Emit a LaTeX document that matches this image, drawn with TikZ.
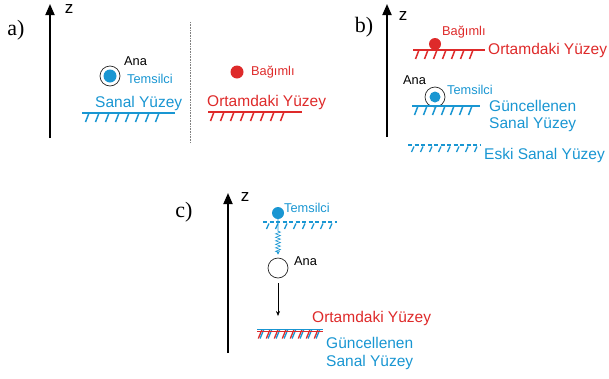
\documentclass[tikz,border=0pt]{standalone}
\usepackage{fontspec}
\setmainfont{Liberation Sans}
\newfontfamily\panelfont{Liberation Serif}
\usetikzlibrary{arrows.meta,decorations.pathmorphing}

\definecolor{tblue}{RGB}{25,150,210}
\definecolor{tred}{RGB}{222,42,42}

% solid surface with slanted hatches: colour, x1, x2, y, hatch positions
\newcommand\solidsurf[5]{%
  \draw[#1, line width=1.6pt] (#2,#4) -- (#3,#4);
  \foreach \hx in {#5} \draw[#1, line width=1.5pt] (\hx,#4) -- ++(-3.5,9);
}
% dashed (old) surface
\newcommand\dashsurf[5]{%
  \draw[#1, line width=1.4pt, dash pattern=on 4pt off 2.5pt] (#2,#4) -- (#3,#4);
  \foreach \hx in {#5} \draw[#1, line width=1.3pt] (\hx,#4+1.5) -- ++(-2.5,5.5);
}

\begin{document}
\begin{tikzpicture}[x=1pt,y=-1pt,
  axis/.style={line width=1.8pt,-{Triangle[width=9pt,length=11pt]}},
  big/.style={font=\fontsize{15.5}{17}\selectfont, inner sep=0pt, anchor=west},
  small/.style={font=\fontsize{12.8}{14}\selectfont, inner sep=0pt, anchor=west},
  zlab/.style={font=\fontsize{17}{18}\selectfont, inner sep=0pt},
  panel/.style={font=\panelfont\fontsize{22}{23}\selectfont, inner sep=0pt},
  ring/.style={circle, draw=black!85, line width=0.7pt, minimum size=20pt, inner sep=0pt},
  dot/.style={circle, minimum size=#1, inner sep=0pt},
]
\useasboundingbox (0,0) rectangle (609,378);

%% ---------------- a) ----------------
\node[panel] (la) at (16,30) {a)};
\coordinate (za0) at (50,138);
\coordinate (za1) at (50,4);
\draw[axis] (za0) -- (za1);
\node[zlab] (zla) at (69,9) {z};

\node[ring] (anaA) at (110,76) {};
\node[dot=13pt, fill=tblue] (temA) at (110,76) {};
\node[small] (anaAl) at (124,61) {Ana};
\node[small, text=tblue] (temAl) at (127,79) {Temsilci};
\node[big, text=tblue] (sanA) at (95,103) {Sanal Yüzey};
\solidsurf{tblue}{82}{175}{113}{89,99,109,119,129,139,149,159}

\coordinate (sep0) at (190,22);
\coordinate (sep1) at (190,143);
\draw[gray, densely dotted, line width=0.6pt] (sep0) -- (sep1);

\node[dot=13pt, fill=tred] (bagA) at (237,72) {};
\node[small, text=tred] (bagAl) at (251,72) {Bağımlı};
\node[big, text=tred] (ortA) at (207,102) {Ortamdaki Yüzey};
\solidsurf{tred}{208}{302}{112}{214,224,234,244,254,264,274,284}

%% ---------------- b) ----------------
\node[panel] (lb) at (364,27) {b)};
\coordinate (zb0) at (387,137);
\coordinate (zb1) at (387,4);
\draw[axis] (zb0) -- (zb1);
\node[zlab] (zlb) at (403,16) {z};

\node[dot=12pt, fill=tred] (bagB) at (435,44) {};
\node[small, text=tred] (bagBl) at (442,32) {Bağımlı};
\solidsurf{tred}{413}{485}{50}{419,428,437,446,455,464,473}
\node[big, text=tred] (ortB) at (488,50) {Ortamdaki Yüzey};

\node[small] (anaBl) at (403,80) {Ana};
\node[ring] (anaB) at (435,97) {};
\node[dot=11pt, fill=tblue] (temB) at (435,97) {};
\node[small, text=tblue] (temBl) at (447,90) {Temsilci};
\solidsurf{tblue}{412}{480}{106}{418,427,436,445,454,463,472}
\node[big, text=tblue] (gunB) at (489,106) {Güncellenen};
\node[big, text=tblue] (sanB) at (489,124) {Sanal Yüzey};

\dashsurf{tblue}{408}{480}{145}{414,423,432,441,450,459,468,477}
\node[big, text=tblue] (eskB) at (484,155) {Eski Sanal Yüzey};

%% ---------------- c) ----------------
\node[panel] (lc) at (184,212) {c)};
\coordinate (zc0) at (228,353);
\coordinate (zc1) at (228,193);
\draw[axis] (zc0) -- (zc1);
\node[zlab] (zlc) at (245,197) {z};

\node[dot=12pt, fill=tblue] (temC) at (278,213) {};
\node[small, text=tblue] (temCl) at (284,208) {Temsilci};
\dashsurf{tblue}{263}{337}{222}{269,278,287,296,305,314,323,332}

\node[ring] (anaC) at (278,268) {};
\node[small] (anaCl) at (294,261) {Ana};

% spring pulling the parent down to the representative
\draw[tblue, line width=0.6pt, decorate,
      decoration={zigzag, segment length=3.5pt, amplitude=2.5pt, pre length=12pt, post length=4pt},
      shorten >=3pt, -{Stealth[length=4pt,width=4pt]}] (temC.south) -- (anaC.north);

\coordinate (fall) at (278,316);
\draw[line width=0.6pt, shorten <=5pt, -{Stealth[length=5pt,width=4pt]}] (anaC.south) -- (fall);

% coincident surfaces: hatches of both colours under a shared line
\foreach \hx in {263,271,279,287,295,303,311,319}{
  \draw[tred, line width=1.3pt] (\hx-1.2,330) -- ++(-3.5,8.5);
  \draw[tblue, line width=1.3pt] (\hx+0.6,330) -- ++(-3.5,8.5);
}
\draw[tred, line width=0.9pt] (257,331.3) -- (323,331.3);
\draw[tblue, line width=1.5pt] (257,329.3) -- (323,329.3);
\node[big, text=tred] (ortC) at (312,318) {Ortamdaki Yüzey};
\node[big, text=tblue] (gunC) at (326,343) {Güncellenen};
\node[big, text=tblue] (sanC) at (326,362) {Sanal Yüzey};
\end{tikzpicture}
\end{document}
